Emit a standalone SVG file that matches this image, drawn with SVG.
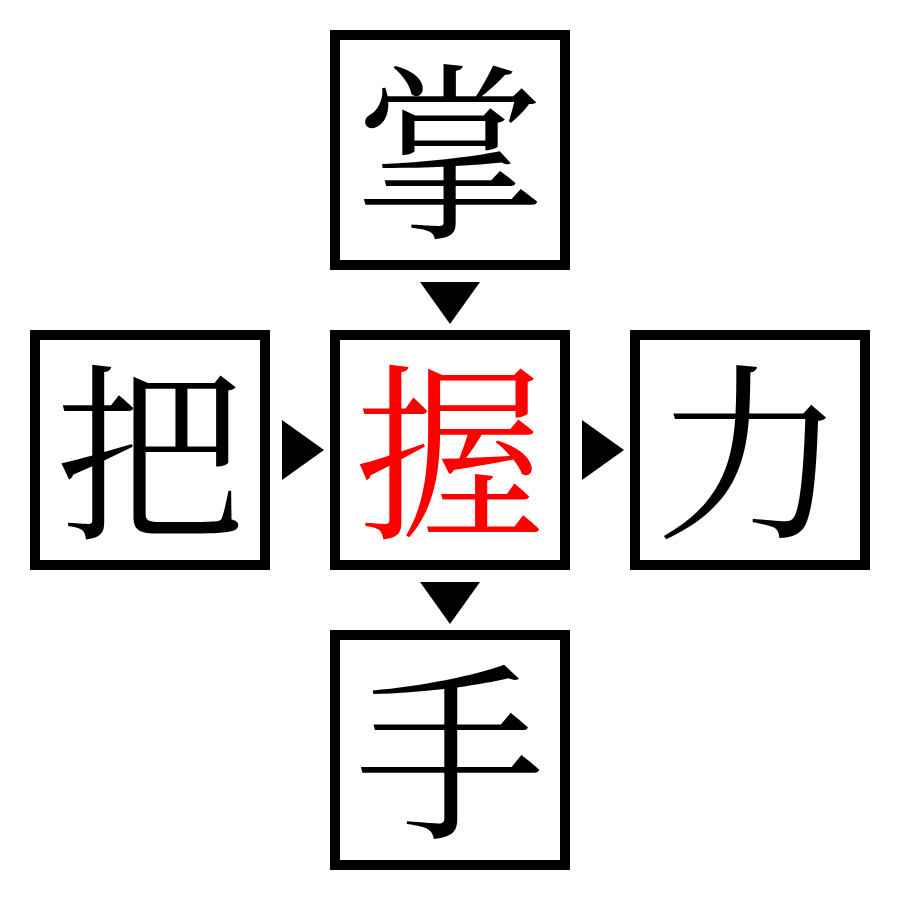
<svg xmlns="http://www.w3.org/2000/svg" width="900" height="900" viewBox="0 0 900 900">
<style>
.box{fill:#fff;stroke:#000;stroke-width:10}
.ch{font-family:"Noto Serif CJK JP","Noto Serif CJK SC","Noto Sans CJK JP",serif;font-size:190px;text-anchor:middle;dominant-baseline:central;fill:#000}
.hl{fill:#ff0000}
.arr{fill:#000}
</style>
<rect width="900" height="900" fill="#fff"/>
<g id="n-top"><rect class="box" x="335" y="35" width="230" height="230"/><text class="ch" x="450" y="141">掌</text></g>
<g id="n-left"><rect class="box" x="35" y="335" width="230" height="230"/><text class="ch" x="150" y="441">把</text></g>
<g id="n-center"><rect class="box" x="335" y="335" width="230" height="230"/><text class="ch hl" x="450" y="441">握</text></g>
<g id="n-right"><rect class="box" x="635" y="335" width="230" height="230"/><text class="ch" x="750" y="441">力</text></g>
<g id="n-bottom"><rect class="box" x="335" y="635" width="230" height="230"/><text class="ch" x="450" y="741">手</text></g>
<g id="connectors">
<polygon class="arr" points="420,282 480,282 450,324"/>
<polygon class="arr" points="420,582 480,582 450,624"/>
<polygon class="arr" points="282,420 282,480 324,450"/>
<polygon class="arr" points="582,420 582,480 624,450"/>
</g>
</svg>
